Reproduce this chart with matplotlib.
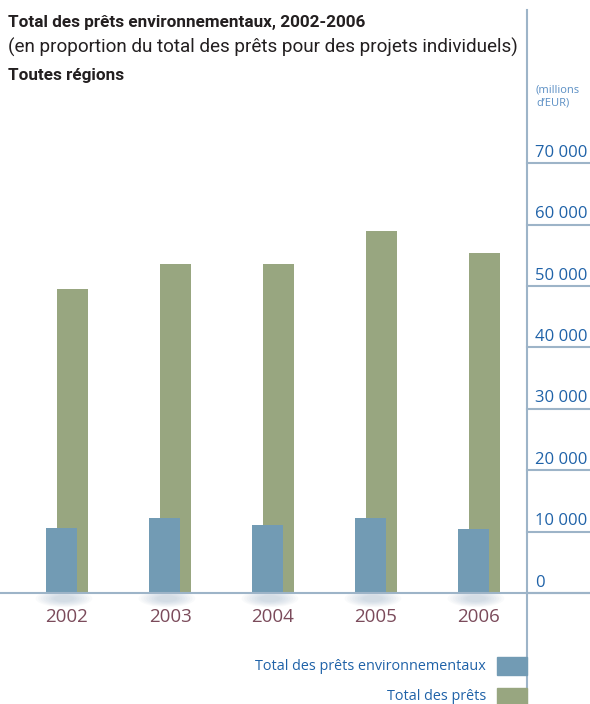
import numpy as np
import matplotlib.pyplot as plt
from matplotlib.patches import Rectangle, Ellipse

plt.rcParams['font.family'] = ['Open Sans', 'DejaVu Sans']

# data (millions d'EUR)
years = ['2002', '2003', '2004', '2005', '2006']
env_loans = [10600, 12200, 11100, 12200, 10400]
total_loans = [49500, 53600, 53600, 59000, 55400]
yticks = [0, 10000, 20000, 30000, 40000, 50000, 60000, 70000]

c_env = '#729bb4'
c_tot = '#98a680'
c_axis = '#9db4c8'
c_tick = '#1f62a8'
c_year = '#7b4b5b'

W, H = 590, 704
fig = plt.figure(figsize=(W / 100, H / 100), dpi=100)
ax = fig.add_axes([0, 0, 1, 1])
ax.set_xlim(-67 / 103, (W - 67) / 103)
ax.set_ylim(-111 / 61.4 * 10000, (H - 111) / 61.4 * 10000)
ax.axis('off')

x = np.arange(len(years))
bw = 31 / 103
off = 5.5 / 103
axis_x = 460 / 103

# soft shadows under the bars
for xi in x:
    for k in range(8):
        ax.add_patch(Ellipse((xi - 0.03, -900), 0.55 - k * 0.05, 2800 - k * 250,
                             color='#8aa6bd', alpha=0.05, lw=0, zorder=1))

ax.bar(x + off, total_loans, bw, color=c_tot, zorder=2)
ax.bar(x - off, env_loans, bw, color=c_env, zorder=3)

# baseline and right axis
xmin, xmax = ax.get_xlim()
ymin, ymax = ax.get_ylim()
ax.plot([xmin, xmax], [0, 0], color=c_axis, lw=1.5, zorder=4)
ax.plot([axis_x, axis_x], [ymin, (H - 111 - 10) / 61.4 * 10000],
        color=c_axis, lw=1.5, zorder=4)
for v in yticks:
    ax.plot([axis_x, xmax], [v, v], color=c_axis, lw=1.5, zorder=4)
    ax.text(axis_x + 8 / 103, v + 1050, f'{v:,}'.replace(',', ' '),
            color=c_tick, fontsize=12, ha='left', va='baseline')

for xi, y in zip(x, years):
    ax.text(xi, -4720, y, color=c_year, fontsize=13.5, ha='center', va='baseline')

# titles
tfont = ['Roboto', 'DejaVu Sans']
fig.text(8 / W, 1 - 27 / H, 'Total des prêts environnementaux, 2002-2006',
         fontsize=12.3, fontweight='bold', color='#231f20', va='baseline', family=tfont)
fig.text(8 / W, 1 - 53 / H, '(en proportion du total des prêts pour des projets individuels)',
         fontsize=13.6, color='#231f20', va='baseline', family=tfont)
fig.text(8 / W, 1 - 80 / H, 'Toutes régions',
         fontsize=12.3, fontweight='bold', color='#231f20', va='baseline', family=tfont)
fig.text(536 / W, 1 - 84 / H, "(millions\nd\u2019EUR)", fontsize=8,
         color='#5b8fc4', va='top', linespacing=1.3)

# legend
labels = ['Total des prêts environnementaux', 'Total des prêts']
colors = [c_env, c_tot]
tops = [657, 688]
for lab, col, t in zip(labels, colors, tops):
    fig.patches.append(Rectangle((497 / W, 1 - (t + 18) / H), 30 / W, 18 / H,
                                 transform=fig.transFigure, color=col))
    fig.text(486 / W, 1 - (t + 9) / H, lab, fontsize=10.4, color=c_tick,
             ha='right', va='center')

fig.savefig('out.png', dpi=100)
